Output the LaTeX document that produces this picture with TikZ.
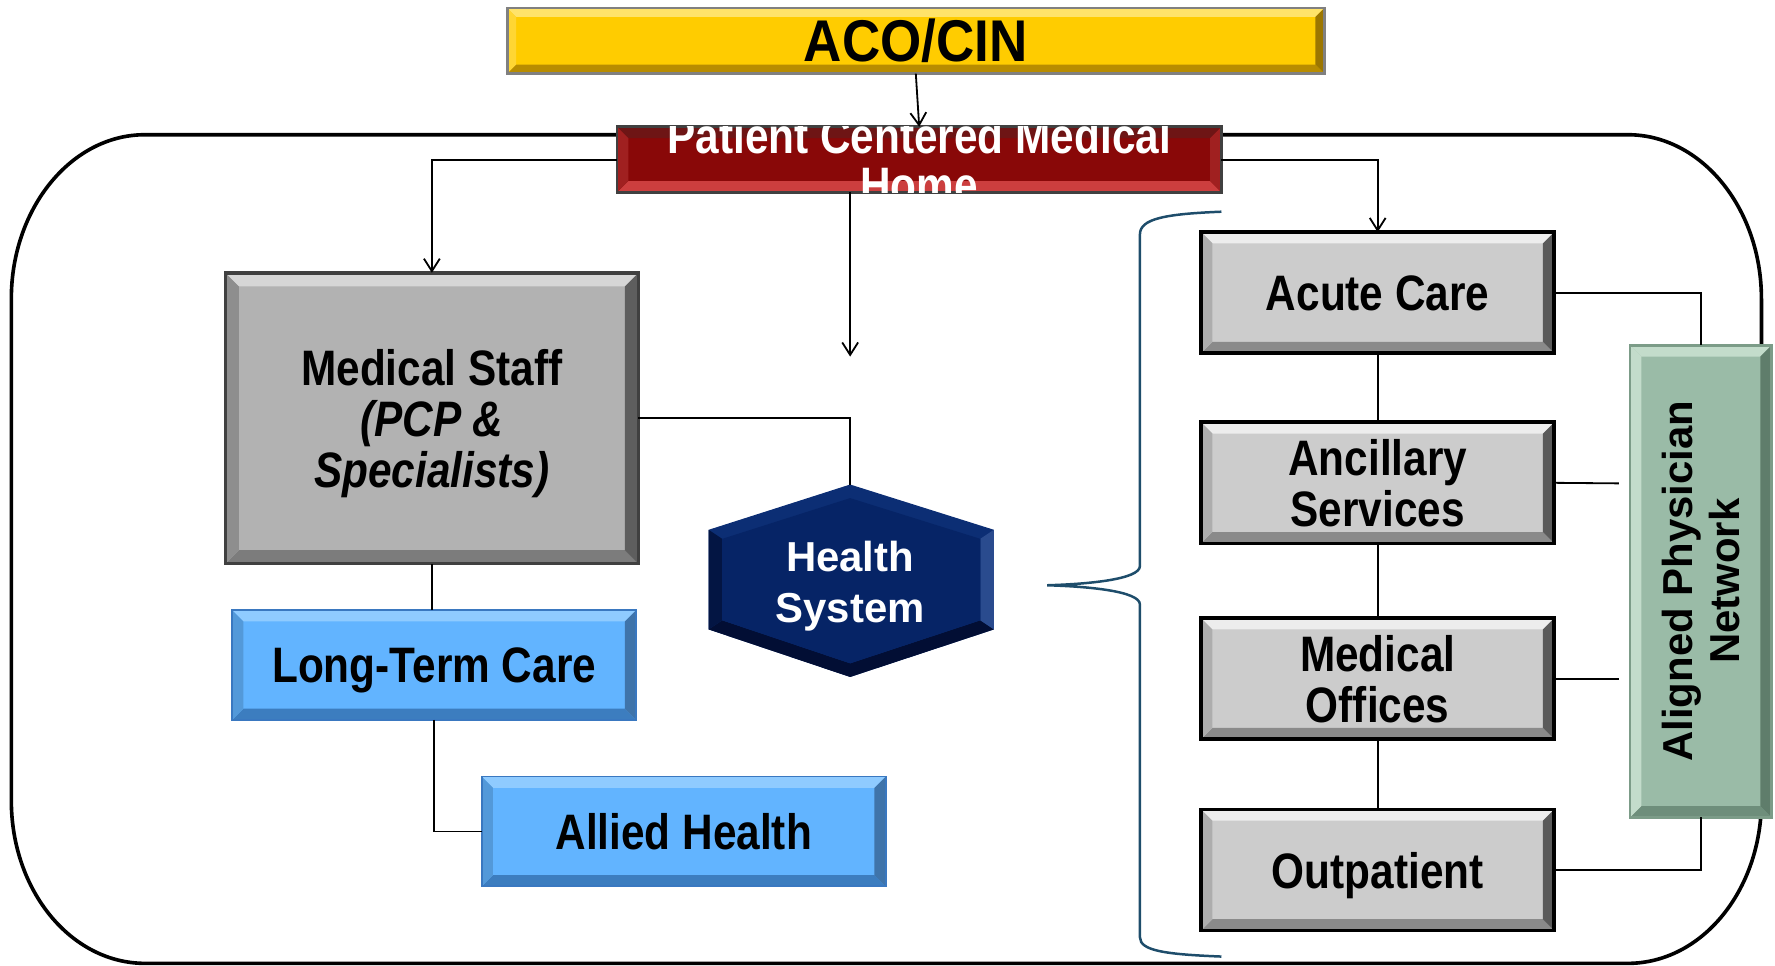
\documentclass[tikz,border=0pt]{standalone}
\usepackage{fontspec}
\setmainfont{Liberation Sans}
\newfontfamily\nar[FakeStretch=0.85]{Liberation Sans}
\newfontfamily\acofont[FakeStretch=0.9]{Liberation Sans}
\usetikzlibrary{arrows.meta,calc}
\definecolor{acoY}{HTML}{FFCC00}
\definecolor{acoT}{HTML}{FFE36A}
\definecolor{acoB}{HTML}{B88C00}
\definecolor{acoR}{HTML}{9C7600}
\definecolor{pcR}{HTML}{890808}
\definecolor{pcT}{HTML}{6E1515}
\definecolor{pcB}{HTML}{CC3E3E}
\definecolor{pcS}{HTML}{A02020}
\definecolor{msG}{HTML}{B2B2B2}
\definecolor{msT}{HTML}{D6D6D6}
\definecolor{msB}{HTML}{7C7C7C}
\definecolor{msR}{HTML}{5E5E5E}
\definecolor{ltB}{HTML}{62B4FF}
\definecolor{ltT}{HTML}{8FCBFF}
\definecolor{ltD}{HTML}{3C7DBF}
\definecolor{ltR}{HTML}{3F74AA}
\definecolor{ltE}{HTML}{3A78C0}
\definecolor{rgG}{HTML}{CCCCCC}
\definecolor{rgT}{HTML}{EDEDED}
\definecolor{rgB}{HTML}{8A8A8A}
\definecolor{rgR}{HTML}{5A5A5A}
\definecolor{apG}{HTML}{9ABBA7}
\definecolor{apT}{HTML}{C3DCCB}
\definecolor{apB}{HTML}{6E8E7B}
\definecolor{apR}{HTML}{5F7D6B}
\definecolor{apE}{HTML}{7C9C88}
\definecolor{hsN}{HTML}{062466}
\definecolor{hsT}{HTML}{0C2E74}
\definecolor{hsD}{HTML}{020E34}
\definecolor{hsL}{HTML}{2A4B8E}
\definecolor{brc}{HTML}{1E4D6B}
\tikzset{
  bevel/.style n args={5}{path picture={%
    \fill[#2] (path picture bounding box.north west) -- (path picture bounding box.north east)
      -- ([shift={(-#1,-#1)}]path picture bounding box.north east) -- ([shift={(#1,-#1)}]path picture bounding box.north west) -- cycle;
    \fill[#3] (path picture bounding box.south west) -- (path picture bounding box.south east)
      -- ([shift={(-#1,#1)}]path picture bounding box.south east) -- ([shift={(#1,#1)}]path picture bounding box.south west) -- cycle;
    \fill[#4] (path picture bounding box.north west) -- (path picture bounding box.south west)
      -- ([shift={(#1,#1)}]path picture bounding box.south west) -- ([shift={(#1,-#1)}]path picture bounding box.north west) -- cycle;
    \fill[#5] (path picture bounding box.north east) -- (path picture bounding box.south east)
      -- ([shift={(-#1,#1)}]path picture bounding box.south east) -- ([shift={(-#1,-#1)}]path picture bounding box.north east) -- cycle;
  }},
  box/.style={rectangle, inner sep=0pt, outer sep=0pt, align=center},
  acobox/.style={box, fill=acoY, draw=gray, line width=1.2pt, minimum width=361pt, minimum height=29pt,
    bevel={4pt}{acoT}{acoB}{acoY!80!white}{acoR}, font=\acofont\bfseries\fontsize{26}{26}\selectfont},
  pcbox/.style={box, fill=pcR, draw=black!75, line width=1.2pt, minimum width=267pt, minimum height=29pt,
    bevel={5pt}{pcT}{pcB}{pcS}{pcS}},
  msbox/.style={box, fill=msG, draw=black!75, line width=1.5pt, minimum width=182.5pt, minimum height=128.5pt,
    text depth=0pt,
    bevel={6pt}{msT}{msB}{msG!80!black}{msR}, font=\nar\bfseries\fontsize{22}{22.4}\selectfont},
  ltbox/.style={box, fill=ltB, draw=ltE, line width=0.8pt, minimum width=178.5pt, minimum height=48.5pt,
    text depth=0pt,
    bevel={5pt}{ltT}{ltD}{ltB!85!black}{ltR}, font=\nar\bfseries\fontsize{22}{22.4}\selectfont},
  rgbox/.style={box, fill=rgG, draw=black, line width=1.6pt, minimum width=156pt, minimum height=53.5pt,
    text depth=0pt,
    bevel={5pt}{rgT}{rgB}{rgG!85!black}{rgR}, font=\nar\bfseries\fontsize{22}{22.4}\selectfont},
  apbox/.style={box, fill=apG, draw=apE, line width=1.2pt, minimum width=62.5pt, minimum height=208.5pt,
    bevel={5pt}{apT}{apB}{apT}{apR}, font=\bfseries\fontsize{18.5}{22}\selectfont},
  conn/.style={draw=black, line width=0.8pt},
  arr/.style={conn, -{Straight Barb[length=5.5pt,width=7pt]}},
  outer/.style={draw=black, line width=1.6pt},
  brace/.style={draw=brc, line width=1.1pt},
}
\begin{document}
\begin{tikzpicture}[x=0.5pt,y=-0.5pt]
\useasboundingbox (0,0) rectangle (1568,853);
% outer rounded frame
\draw[outer] (128,119) -- (1438,119) .. controls (1503,119) and (1556,184) .. (1556,264)
  -- (1556,707) .. controls (1556,787) and (1503,851) .. (1438,851)
  -- (128,851) .. controls (63,851) and (10,787) .. (10,707)
  -- (10,264) .. controls (10,184) and (63,119) .. (128,119) -- cycle;
% brace
\draw[brace] (1079,187) .. controls (1030,189) and (1007,193) .. (1007,207)
  -- (1007,500) .. controls (1007,512) and (960,516) .. (925,517)
  .. controls (960,518) and (1007,522) .. (1007,534)
  -- (1007,828) .. controls (1007,840) and (1030,843) .. (1079,845);

% nodes
\node[acobox] (aco) at (809,36) {ACO/CIN};
\node[pcbox] (pcmh) at (812,141) {};
\begin{scope}
  \clip (pcmh.south west) rectangle (pcmh.north east);
  \node[box, text=white, font=\nar\bfseries\fontsize{22}{21.5}\selectfont] (pcmhtext) at (812,141.5) {Patient Centered Medical\\Home};
\end{scope}
\node[msbox] (ms) at (381.5,369.5) {Medical Staff\\\itshape(PCP \&\\\itshape Specialists)};
\node[ltbox] (ltc) at (383.5,587.5) {Long-Term Care};
\node[ltbox] (allied) at (604,734.5) {Allied Health};
\node[rgbox] (acute) at (1217,258.5) {Acute Care};
\node[rgbox] (anc) at (1217,426.5) {Ancillary\\Services};
\node[rgbox] (mo) at (1217,599.5) {Medical\\Offices};
\node[rgbox] (out) at (1217,768.5) {Outpatient};
\node[apbox] (apn) at (1502.5,513.5) {\rotatebox{90}{\raisebox{0pt}[\dimexpr\height-2.2pt\relax][\dimexpr\depth-6.6pt\relax]{\begin{tabular}{@{}c@{}}Aligned Physician\\[-1pt]Network\end{tabular}}}};

% health system hexagon
\fill[hsT] (751,428) -- (878,468) -- (878,556) -- (751,598) -- (626,556) -- (626,468) -- cycle;
\fill[hsD] (878,556) -- (751,598) -- (626,556) -- (638,548) -- (751,586) -- (866,548) -- cycle;
\fill[hsL] (878,468) -- (878,556) -- (866,548) -- (866,476) -- cycle;
\fill[hsD!70!hsN] (626,468) -- (626,556) -- (638,548) -- (638,476) -- cycle;
\fill[hsN] (751,440) -- (866,476) -- (866,548) -- (751,586) -- (638,548) -- (638,476) -- cycle;
\coordinate (hstop) at (751,428);
\node[box, text depth=0pt, text=white, font=\bfseries\fontsize{18.5}{22.5}\selectfont] (hs) at (751,514) {Health\\System};

% connectors
\draw[arr] (aco.south) -- (pcmh.north);
\draw[arr] (pcmh.west) -| (ms.north);
\draw[arr] (pcmh.east) -| (acute.north);
\coordinate (dangle) at (751,315);
\draw[arr] (pcmh.south -| dangle) -- (dangle);
\draw[conn] (ms.east) -| (hstop);
\draw[conn] (ms.south) -- (ms.south |- ltc.north);
\draw[conn] (ltc.south) |- (allied.west);
\draw[conn] (acute.south) -- (anc.north);
\draw[conn] (anc.south) -- (mo.north);
\draw[conn] (mo.south) -- (out.north);
\draw[conn] (acute.east) -| (apn.north);
\draw[conn] (out.east) -| (apn.south);
\coordinate (ancend) at (1430,427);
\coordinate (moend) at (1430,599.5);
\draw[conn] (anc.east) -- (ancend);
\draw[conn] (mo.east) -- (moend);
\end{tikzpicture}
\end{document}
